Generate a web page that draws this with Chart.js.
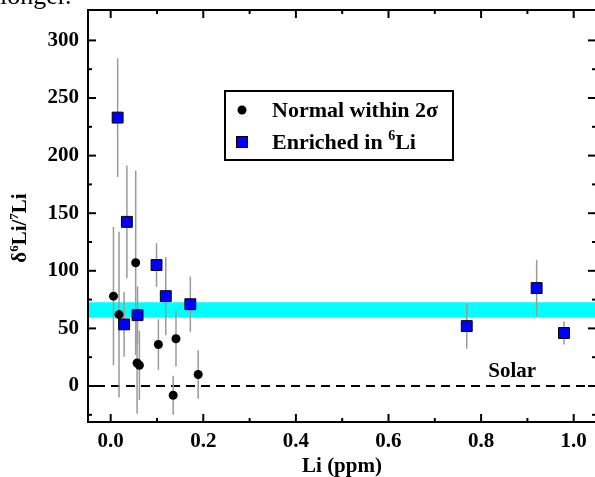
<!DOCTYPE html>
<html>
<head>
<meta charset="utf-8">
<script src="https://cdn.jsdelivr.net/npm/chart.js@4.4.0/dist/chart.umd.min.js"></script>
<style>
  html, body { margin: 0; padding: 0; background: #fff; }
  #wrap { width: 595px; height: 477px; position: relative; }
</style>
</head>
<body>
<div id="wrap"><canvas id="chart"></canvas></div>
<script>
// normal within 2 sigma
const normalLi = [0.006, 0.018, 0.054, 0.057, 0.062, 0.103, 0.135, 0.141, 0.189];
const normalDelta = [78, 62, 107, 20, 18, 36, -8, 41, 10];
const normalErr = [60, 72, 80, 44, 30, 22, 17, 24, 21];

// enriched in 6Li
const enrichedLi = [0.015, 0.029, 0.035, 0.058, 0.099, 0.119, 0.172, 0.769, 0.920, 0.979];
const enrichedDelta = [233, 53.5, 142.5, 61.5, 105, 78, 71, 52, 85, 46];
const enrichedErr = [51.5, 28, 49, 25, 19, 34, 24, 19.5, 24.5, 10];

const bandRange = [59.3, 72.7];
const solarValue = 0;

const xMajorTicks = [0, 0.2, 0.4, 0.6, 0.8, 1.0];
const xMinorTicks = [0.1, 0.3, 0.5, 0.7, 0.9];
const yMajorTicks = [0, 50, 100, 150, 200, 250, 300];
const yMinorTicks = [-25, 25, 75, 125, 175, 225, 275, 325];

const FONT = '"Liberation Serif", "Times New Roman", serif';

function toPoints(xs, ys) {
  return xs.map((x, i) => ({ x: x, y: ys[i] }));
}

// scales shrink their own range by these, we want the full box
function noPad(s) {
  s.paddingLeft = 0;
  s.paddingRight = 0;
  s.paddingTop = 0;
  s.paddingBottom = 0;
}

// draws text with superscript pieces, parts = [[text, isSup], ...]
function drawRich(ctx, parts, x, y, size) {
  let cx = x;
  parts.forEach(([t, sup]) => {
    ctx.font = 'bold ' + (sup ? Math.round(size * 0.62) : size) + 'px ' + FONT;
    ctx.fillText(t, cx, sup ? y - size * 0.4 : y);
    cx += ctx.measureText(t).width;
  });
  return cx - x;
}

function measureRich(ctx, parts, size) {
  let w = 0;
  parts.forEach(([t, sup]) => {
    ctx.font = 'bold ' + (sup ? Math.round(size * 0.62) : size) + 'px ' + FONT;
    w += ctx.measureText(t).width;
  });
  return w;
}

const decorations = {
  id: 'decorations',
  beforeDatasetsDraw(chart) {
    const { ctx, chartArea: a, scales: { x, y } } = chart;
    ctx.save();
    // cyan band
    const yt = y.getPixelForValue(bandRange[1]);
    const yb = y.getPixelForValue(bandRange[0]);
    ctx.fillStyle = '#00ffff';
    ctx.fillRect(a.left, yt, a.right - a.left, yb - yt);

    // solar dashed line
    const y0 = y.getPixelForValue(solarValue);
    ctx.strokeStyle = '#000';
    ctx.lineWidth = 2;
    ctx.setLineDash([9, 6]);
    ctx.beginPath();
    ctx.moveTo(a.left + 8, y0);
    ctx.lineTo(a.right, y0);
    ctx.stroke();
    ctx.setLineDash([]);

    // error bars
    ctx.strokeStyle = '#9a9a9a';
    ctx.lineWidth = 1.5;
    chart.data.datasets.forEach(ds => {
      ds.data.forEach((p, i) => {
        const e = ds.errors[i];
        const px = x.getPixelForValue(p.x);
        ctx.beginPath();
        ctx.moveTo(px, y.getPixelForValue(p.y + e));
        ctx.lineTo(px, y.getPixelForValue(p.y - e));
        ctx.stroke();
      });
    });
    ctx.restore();
  },
  afterDatasetsDraw(chart) {
    const { ctx, chartArea: a, scales: { x, y } } = chart;
    ctx.save();
    ctx.fillStyle = '#000';
    ctx.strokeStyle = '#000';

    // frame
    ctx.lineWidth = 2;
    ctx.strokeRect(a.left, a.top, a.right - a.left + 2, a.bottom - a.top);

    // inward ticks
    ctx.lineWidth = 2;
    const tick = (x1, y1, x2, y2) => {
      ctx.beginPath(); ctx.moveTo(x1, y1); ctx.lineTo(x2, y2); ctx.stroke();
    };
    xMajorTicks.forEach(v => {
      const px = x.getPixelForValue(v);
      tick(px, a.bottom, px, a.bottom - 8);
      tick(px, a.top, px, a.top + 8);
    });
    xMinorTicks.forEach(v => {
      const px = x.getPixelForValue(v);
      tick(px, a.bottom, px, a.bottom - 4);
      tick(px, a.top, px, a.top + 4);
    });
    yMajorTicks.forEach(v => {
      const py = y.getPixelForValue(v);
      tick(a.left, py, a.left + 8, py);
      tick(a.right, py, a.right - 7, py);
    });
    yMinorTicks.forEach(v => {
      const py = y.getPixelForValue(v);
      if (py < a.top + 2) return;
      tick(a.left, py, a.left + 4, py);
      tick(a.right, py, a.right - 3, py);
    });

    // solar label
    ctx.font = 'bold 21px ' + FONT;
    ctx.textAlign = 'center';
    ctx.textBaseline = 'middle';
    ctx.fillText('Solar', x.getPixelForValue(0.867), y.getPixelForValue(12.5));

    // legend box
    ctx.lineWidth = 2;
    ctx.strokeRect(225, 91, 228, 69);
    ctx.beginPath();
    ctx.arc(242, 110, 4.5, 0, Math.PI * 2);
    ctx.fill();
    ctx.fillStyle = '#0000ff';
    ctx.fillRect(236.5, 136.5, 11, 11);
    ctx.lineWidth = 1;
    ctx.strokeRect(236.5, 136.5, 11, 11);
    ctx.fillStyle = '#000';
    ctx.textAlign = 'left';
    ctx.textBaseline = 'alphabetic';
    ctx.font = 'bold 22px ' + FONT;
    ctx.fillText('Normal within 2\u03c3', 272, 117);
    drawRich(ctx, [['Enriched in ', false], ['6', true], ['Li', false]], 272, 149, 22);

    // axis titles
    ctx.font = 'bold 21px ' + FONT;
    ctx.textAlign = 'center';
    ctx.fillText('Li (ppm)', 342, 472);

    const yParts = [['\u03b4', false], ['6', true], ['Li/', false], ['7', true], ['Li', false]];
    ctx.textAlign = 'left';
    const w = measureRich(ctx, yParts, 21);
    ctx.translate(26, 228);
    ctx.rotate(-Math.PI / 2);
    drawRich(ctx, yParts, -w / 2, 0, 21);
    ctx.restore();

    // cropped line of page text above the figure
    ctx.save();
    ctx.font = '26px ' + FONT;
    ctx.fillStyle = '#000';
    ctx.fillText('longer.', 0, 4);
    ctx.restore();
  }
};

new Chart(document.getElementById('chart'), {
  type: 'scatter',
  data: {
    datasets: [
      {
        label: 'Normal within 2\u03c3',
        data: toPoints(normalLi, normalDelta),
        errors: normalErr,
        pointStyle: 'circle',
        pointRadius: 4.5,
        pointBackgroundColor: '#000',
        pointBorderWidth: 0,
        pointHoverRadius: 4.5
      },
      {
        label: 'Enriched in 6Li',
        data: toPoints(enrichedLi, enrichedDelta),
        errors: enrichedErr,
        pointStyle: 'rect',
        pointRadius: 7.7,
        pointBackgroundColor: '#0000ff',
        pointBorderColor: '#000',
        pointBorderWidth: 1,
        pointHoverRadius: 7.7
      }
    ]
  },
  options: {
    responsive: true,
    maintainAspectRatio: false,
    animation: false,
    events: [],
    layout: { autoPadding: false, padding: { top: 10, right: 0, left: 0, bottom: 0 } },
    plugins: {
      legend: { display: false },
      tooltip: { enabled: false }
    },
    scales: {
      x: {
        type: 'linear',
        min: -0.049,
        max: 1.046,
        afterFit: s => { s.height = 55; noPad(s); },
        afterBuildTicks: s => { s.ticks = xMajorTicks.map(v => ({ value: v })); },
        grid: { display: false, drawTicks: false },
        border: { display: false },
        ticks: {
          padding: 7,
          color: '#000',
          font: { family: FONT, size: 21, weight: 'bold' },
          callback: v => v.toFixed(1)
        }
      },
      y: {
        type: 'linear',
        min: -31.25,
        max: 326.4,
        afterFit: s => { s.width = 88; noPad(s); },
        afterBuildTicks: s => { s.ticks = yMajorTicks.map(v => ({ value: v })); },
        grid: { display: false, drawTicks: false },
        border: { display: false },
        ticks: {
          padding: 9,
          color: '#000',
          font: { family: FONT, size: 21, weight: 'bold' }
        }
      }
    }
  },
  plugins: [decorations]
});
</script>
</body>
</html>
